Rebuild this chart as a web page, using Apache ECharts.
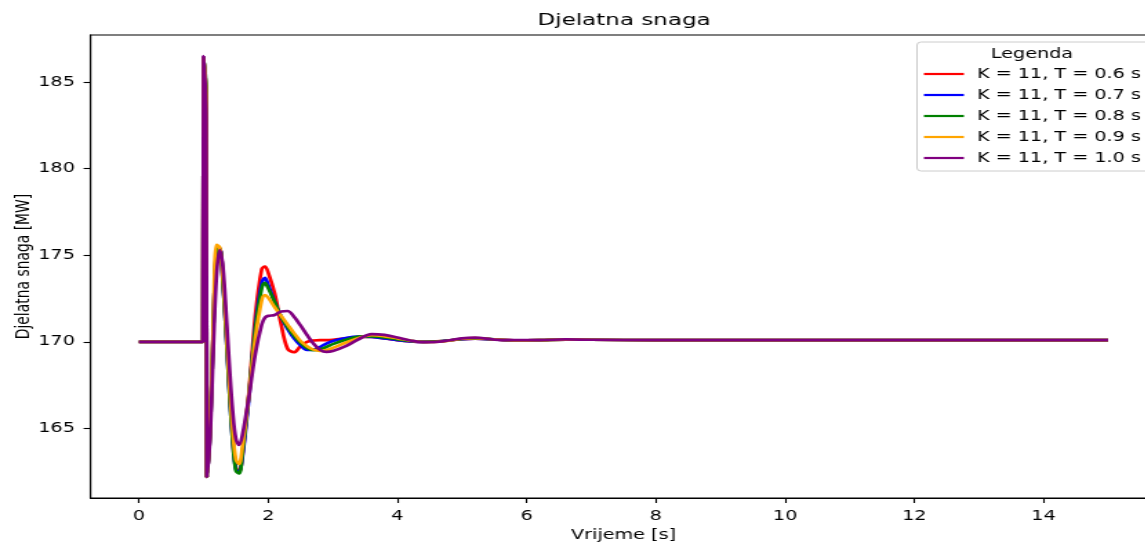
<!DOCTYPE html>
<html>
<head>
<meta charset="utf-8">
<script src="https://cdn.jsdelivr.net/npm/echarts@6/dist/echarts.min.js"></script>
<style>
html,body{margin:0;padding:0;overflow:hidden;background:#fff;width:1145px;height:542px}
#chart{width:870px;height:542px;transform:scaleX(1.38);transform-origin:0 0}
</style>
</head>
<body>
<div id="chart"></div>
<script>
// ---- data ----
const chartTitle = 'Djelatna snaga';
const legendTitle = 'Legenda';
const xName = 'Vrijeme [s]';
const yName = 'Djelatna snaga [MW]';
const seriesNames = ['K = 11, T = 0.6 s', 'K = 11, T = 0.7 s', 'K = 11, T = 0.8 s', 'K = 11, T = 0.9 s', 'K = 11, T = 1.0 s'];
const seriesColors = ['#ff0000', '#0000ff', '#008000', '#ffa500', '#800080'];
const xTicks = [0, 2, 4, 6, 8, 10, 12, 14];
const yTicks = [165, 170, 175, 180, 185];

const time = [0, 0.99, 1.0, 1.04, 1.05, 1.1, 1.15, 1.2, 1.25, 1.3,
  1.35, 1.4, 1.45, 1.5, 1.55, 1.6, 1.7, 1.8, 1.9, 1.95,
  2.0, 2.1, 2.2, 2.3, 2.4, 2.5, 2.6, 2.7, 2.8, 2.9,
  3.0, 3.2, 3.4, 3.6, 3.8, 4.0, 4.2, 4.4, 4.7, 5.0,
  5.2, 5.5, 5.8, 6.2, 6.6, 7.0, 8.0, 10.0, 12.0, 15.0];

const pT06 = [170, 170, 186.4, 184.0, 162.2, 164.8, 170.7, 175.3, 175.4, 173.5,
  170.6, 167.35, 164.5, 162.75, 162.5, 163.4, 167.0, 171.5, 174.2, 174.35,
  174.0, 172.8, 171.0, 169.6, 169.4, 169.75, 170.0, 170.08, 170.1, 170.1,
  170.12, 170.2, 170.28, 170.28, 170.2, 170.1, 170.03, 170.0, 170.05, 170.15,
  170.18, 170.14, 170.09, 170.1, 170.13, 170.12, 170.1, 170.1, 170.1, 170.1];

const pT07 = [170, 170, 186.4, 184.0, 162.2, 164.8, 170.7, 175.3, 175.4, 173.4,
  170.4, 167.1, 164.3, 162.65, 162.5, 163.3, 166.7, 170.9, 173.4, 173.7,
  173.3, 172.3, 171.45, 170.75, 170.2, 169.8, 169.53, 169.55, 169.7, 169.9,
  170.05, 170.22, 170.3, 170.28, 170.2, 170.1, 170.03, 170.0, 170.05, 170.16,
  170.19, 170.14, 170.09, 170.1, 170.13, 170.12, 170.1, 170.1, 170.1, 170.1];

const pT08 = [170, 170, 186.4, 184.5, 162.2, 164.8, 170.7, 175.3, 175.35, 173.4,
  170.4, 167.1, 164.3, 162.55, 162.4, 163.5, 166.9, 170.7, 173.1, 173.4,
  173.1, 172.3, 171.45, 170.85, 170.35, 169.95, 169.65, 169.52, 169.57, 169.7,
  169.87, 170.12, 170.3, 170.32, 170.25, 170.14, 170.05, 170.0, 170.04, 170.17,
  170.2, 170.14, 170.09, 170.1, 170.13, 170.12, 170.1, 170.1, 170.1, 170.1];

const pT09 = [170, 170, 186.4, 184.0, 162.2, 165.0, 171.0, 175.6, 175.45, 173.7,
  170.8, 167.6, 164.9, 163.2, 162.95, 163.9, 166.9, 170.2, 172.4, 172.7,
  172.55, 172.0, 171.5, 171.0, 170.5, 170.05, 169.75, 169.55, 169.48, 169.52,
  169.65, 169.95, 170.22, 170.38, 170.32, 170.2, 170.07, 169.99, 170.02, 170.18,
  170.22, 170.14, 170.09, 170.1, 170.13, 170.12, 170.1, 170.1, 170.1, 170.1];

const pT10 = [170, 170, 186.5, 183.0, 162.2, 164.5, 169.5, 173.8, 175.3, 174.3,
  171.6, 168.6, 166.0, 164.4, 164.05, 164.6, 166.8, 169.3, 171.0, 171.4,
  171.5, 171.55, 171.75, 171.78, 171.45, 170.95, 170.4, 169.9, 169.55, 169.42,
  169.47, 169.75, 170.15, 170.45, 170.4, 170.25, 170.08, 169.98, 170.03, 170.2,
  170.24, 170.13, 170.1, 170.1, 170.14, 170.12, 170.1, 170.1, 170.1, 170.1];

const seriesValues = [pT06, pT07, pT08, pT09, pT10];

// ---- chart ----
const FONT = 'DejaVu Sans';
const chart = echarts.init(document.getElementById('chart'), null, {renderer: 'canvas'});

const series = seriesValues.map((vals, k) => ({
  name: seriesNames[k],
  type: 'line',
  data: time.map((t, i) => [t, vals[i]]),
  showSymbol: false,
  symbol: 'none',
  smooth: 0.35,
  lineStyle: {width: 2.7, color: seriesColors[k]},
  itemStyle: {color: seriesColors[k]},
  emphasis: {disabled: true},
  z: 3 + k
}));

const axisText = {fontFamily: FONT, fontSize: 13.9, color: '#000'};

chart.setOption({
  animation: false,
  backgroundColor: '#ffffff',
  title: [
    {text: chartTitle, left: 452.2, top: 12, padding: 0, textAlign: 'center',
     textStyle: {fontFamily: FONT, fontSize: 16.7, fontWeight: 'normal', color: '#000'}},
    {text: legendTitle, left: 747.8, top: 47, padding: 0, textAlign: 'center', z: 20,
     textStyle: {fontFamily: FONT, fontSize: 13.9, fontWeight: 'normal', color: '#000'}}
  ],
  legend: {
    orient: 'vertical',
    left: 664.5,
    top: 42,
    padding: [25, 8, 6, 5],
    icon: 'rect',
    itemWidth: 29,
    itemHeight: 2.2,
    itemGap: 7,
    formatter: ' {name}',
    backgroundColor: 'rgba(255,255,255,0.8)',
    borderColor: '#cccccc',
    borderWidth: 1,
    borderRadius: 3,
    textStyle: {fontFamily: FONT, fontSize: 13.9, color: '#000', lineHeight: 14},
    data: seriesNames.map((n, k) => ({name: n, icon: 'rect', itemStyle: {color: seriesColors[k]}})),
    z: 10
  },
  grid: {left: 65.58, top: 35, width: 772.5, height: 463, show: true,
         containLabel: false, outerBoundsMode: 'none',
         borderColor: '#000', borderWidth: 1.1, backgroundColor: 'transparent'},
  xAxis: {
    type: 'value', min: -0.75, max: 15.75,
    name: xName, nameLocation: 'middle', nameGap: 30, nameMoveOverlap: false,
    nameTextStyle: axisText,
    axisLine: {show: true, onZero: false, lineStyle: {color: '#000', width: 1.1}},
    axisTick: {show: true, customValues: xTicks, length: 5, lineStyle: {color: '#000', width: 1.1}},
    axisLabel: {customValues: xTicks, margin: 11, ...axisText},
    splitLine: {show: false}
  },
  yAxis: {
    type: 'value', min: 160.985, max: 187.715,
    name: yName, nameLocation: 'middle', nameGap: 41, nameMoveOverlap: false,
    nameTextStyle: axisText,
    axisLine: {show: true, onZero: false, lineStyle: {color: '#000', width: 1.1}},
    axisTick: {show: true, customValues: yTicks, length: 5, lineStyle: {color: '#000', width: 1.1}},
    axisLabel: {customValues: yTicks, margin: 11.3, ...axisText},
    splitLine: {show: false}
  },
  series: series
});
</script>
</body>
</html>
